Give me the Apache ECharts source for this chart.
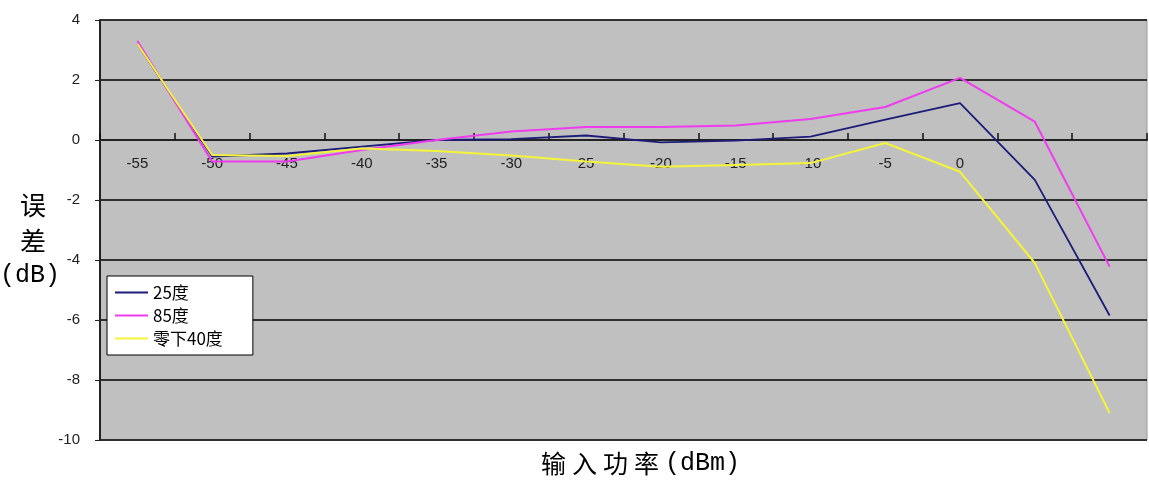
<!DOCTYPE html>
<html><head><meta charset="utf-8">
<script src="https://cdn.jsdelivr.net/npm/echarts@6/dist/echarts.min.js"></script>
<style>html,body{margin:0;padding:0;background:#fff}#c{width:1149px;height:485px}</style>
</head><body><div id="c"></div>
<script>
var categories = ['-55','-50','-45','-40','-35','-30','25','-20','-15','-10','-5','0','5','10'];
var labelCount = 12;
var s25 = [3.2, -0.55, -0.45, -0.22, 0.0, 0.03, 0.15, -0.08, -0.02, 0.11, 0.68, 1.23, -1.33, -5.85];
var s85 = [3.3, -0.72, -0.72, -0.33, 0.0, 0.28, 0.43, 0.43, 0.48, 0.7, 1.1, 2.07, 0.61, -4.22];
var sM40 = [3.2, -0.5, -0.53, -0.28, -0.37, -0.52, -0.72, -0.89, -0.83, -0.77, -0.1, -1.06, -4.1, -9.1];
var yTicks = {min: -10, max: 4, interval: 2};
var names = ['25度', '85度', '零下40度'];
var colors = ['#1c1c78', '#ee3cee', '#f4f43a'];

var chart = echarts.init(document.getElementById('c'));
var font = '"Noto Sans CJK SC", "Liberation Sans", sans-serif';
var mono = '"Liberation Mono", "DejaVu Sans Mono", monospace';
var xName = ['输', '入', '功', '率'];
var graphics = [
  {type: 'text', left: 20, top: 192, style: {text: '误', fontSize: 26, fontFamily: font, fill: '#000'}},
  {type: 'text', left: 20, top: 228, style: {text: '差', fontSize: 26, fontFamily: font, fill: '#000'}},
  {type: 'text', left: 0, top: 263, style: {text: '(dB)', fontSize: 25, fontFamily: mono, fill: '#000'}},
  {type: 'text', left: 665, top: 451, style: {text: '(dBm)', fontSize: 25, fontFamily: mono, fill: '#000'}}
];
xName.forEach(function (ch, i) {
  graphics.push({type: 'text', left: 541 + i * 31, top: 451, style: {text: ch, fontSize: 25, fontFamily: font, fill: '#000'}});
});
chart.setOption({
  animation: false,
  backgroundColor: '#fff',
  color: colors,
  grid: {left: 100, right: 2, top: 20, bottom: 45, show: true, backgroundColor: '#c0c0c0', borderColor: '#9a9a9a', borderWidth: 1},
  legend: {
    orient: 'vertical', left: 107, top: 276,
    backgroundColor: '#fff', borderColor: '#000', borderWidth: 1,
    padding: [8, 30, 8, 8], itemGap: 6, itemWidth: 33, itemHeight: 2, icon: 'rect',
    textStyle: {fontFamily: font, fontSize: 17, color: '#000', lineHeight: 17},
    data: names
  },
  xAxis: {
    type: 'category', data: categories, boundaryGap: true, position: 'bottom', offset: -300,
    axisLine: {show: true, onZero: false, lineStyle: {color: '#222', width: 2}},
    axisTick: {show: true, inside: true, length: 7, interval: 0, lineStyle: {color: '#111', width: 1.5}},
    axisLabel: {margin: 16, fontSize: 15, color: '#222', fontFamily: '"Liberation Sans", sans-serif',
      interval: function (i) { return i < labelCount; }},
    splitLine: {show: false}
  },
  yAxis: {
    type: 'value', min: yTicks.min, max: yTicks.max, interval: yTicks.interval,
    axisLine: {show: true, lineStyle: {color: '#222', width: 2}},
    axisTick: {show: true, length: 5, lineStyle: {color: '#222'}},
    axisLabel: {fontSize: 15, color: '#222', margin: 20, fontFamily: '"Liberation Sans", sans-serif'},
    splitLine: {show: true, lineStyle: {color: '#303030', width: 2}}
  },
  graphic: graphics,
  series: [
    {name: names[0], type: 'line', data: s25, symbol: 'none', lineStyle: {width: 1.8, color: colors[0]}},
    {name: names[1], type: 'line', data: s85, symbol: 'none', lineStyle: {width: 2, color: colors[1]}},
    {name: names[2], type: 'line', data: sM40, symbol: 'none', lineStyle: {width: 2, color: colors[2]}}
  ]
});
</script></body></html>
